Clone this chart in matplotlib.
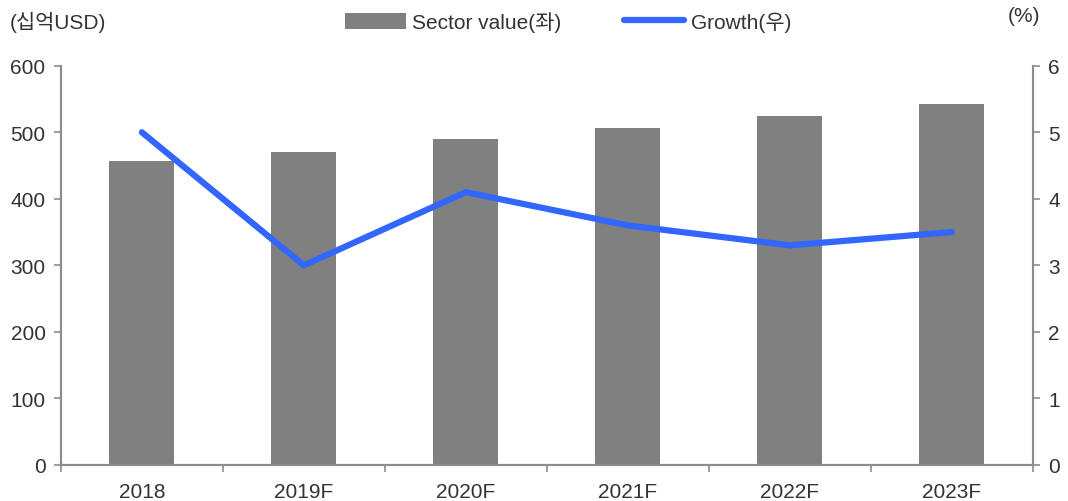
import numpy as np
import matplotlib.pyplot as plt
from matplotlib.lines import Line2D
from matplotlib.patches import Patch

plt.rcParams['font.family'] = ['Liberation Sans', 'Noto Sans CJK KR', 'DejaVu Sans']

years = ["2018", "2019F", "2020F", "2021F", "2022F", "2023F"]
sector_value = [457, 470, 490, 507, 524, 542]
growth = [5.0, 3.0, 4.1, 3.6, 3.3, 3.5]

BAR_COLOR = "#808080"
LINE_COLOR = "#3366FF"
AXIS_COLOR = "#8c8c8c"
TEXT_COLOR = "#333333"
FS = 15

fig = plt.figure(figsize=(10.68, 5.02), dpi=100)
ax = fig.add_axes([0.057, 0.072, 0.910, 0.795])
ax2 = ax.twinx()

x = np.arange(len(years))
ax.bar(x, sector_value, width=0.4, color=BAR_COLOR, zorder=2)
ax2.plot(x, growth, color=LINE_COLOR, lw=4.5, solid_capstyle="round", zorder=3)

ax.set_xlim(-0.5, len(years) - 0.5)
ax.set_ylim(0, 600)
ax.set_yticks(range(0, 601, 100))
ax2.set_ylim(0, 6)
ax2.set_yticks(range(0, 7))

# category boundaries as major ticks, labels on minor ticks
ax.set_xticks(np.arange(-0.5, len(years), 1.0))
ax.set_xticklabels([])
ax.set_xticks(x, minor=True)
ax.set_xticklabels(years, minor=True)
ax.tick_params(axis="x", which="major", length=5, width=1.2, color=AXIS_COLOR, direction="out")
ax.tick_params(axis="x", which="minor", length=0, pad=12, labelsize=FS, labelcolor=TEXT_COLOR)
ax.tick_params(axis="y", length=5, width=1.2, color=AXIS_COLOR, direction="out",
               labelsize=FS, labelcolor=TEXT_COLOR, pad=6)
ax2.tick_params(axis="y", length=5, width=1.2, color=AXIS_COLOR, direction="out",
                labelsize=FS, labelcolor=TEXT_COLOR, pad=6)

for a in (ax, ax2):
    a.spines["top"].set_visible(False)
    for s in ("left", "right", "bottom"):
        a.spines[s].set_color(AXIS_COLOR)
        a.spines[s].set_linewidth(1.5)

fig.text(0.009, 0.955, "(십억USD)", fontsize=FS, color=TEXT_COLOR, va="center", ha="left")
fig.text(0.974, 0.968, "(%)", fontsize=FS, color=TEXT_COLOR, va="center", ha="right")

handles = [Patch(facecolor=BAR_COLOR, edgecolor="none"),
           Line2D([0], [0], color=LINE_COLOR, lw=4.5, solid_capstyle="round")]
fig.legend(handles, ["Sector value(좌)", "Growth(우)"], loc="center",
           bbox_to_anchor=(0.532, 0.955), ncol=2, frameon=False, fontsize=FS,
           handlelength=2.9, handleheight=0.8, handletextpad=0.3, columnspacing=3.0,
           labelcolor=TEXT_COLOR)

fig.savefig("out.png", dpi=100)
